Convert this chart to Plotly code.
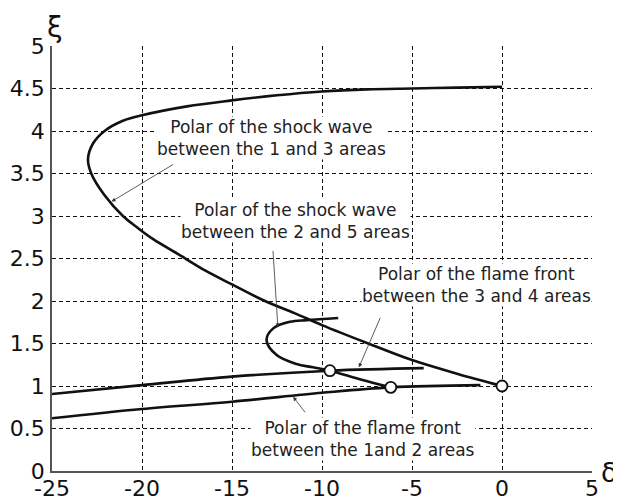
import plotly.graph_objects as go

# Shock polar between areas 1 and 3
shock13_x = [0, -2.5, -5, -7.43, -10, -11.5, -13.17, -15, -16.5, -17.9, -19.4, -20.3, -21.06, -22.1, -22.82, -23.0, -22.73, -22.08, -21.06, -20, -17.5, -15, -12.5, -10, -7.5, -5, -2.5, 0]
shock13_y = [1.0, 1.145, 1.305, 1.5, 1.716, 1.855, 2.0, 2.195, 2.36, 2.54, 2.73, 2.87, 3.0, 3.25, 3.5, 3.67, 3.85, 4.0, 4.12, 4.185, 4.29, 4.36, 4.42, 4.465, 4.49, 4.5, 4.51, 4.52]

# Shock polar between areas 2 and 5
shock25_x = [-6.18, -7.9, -9.56, -10.5, -11.41, -12.52, -13.08, -12.71, -11.78, -10.85, -9.1]
shock25_y = [0.984, 1.08, 1.18, 1.22, 1.258, 1.364, 1.54, 1.678, 1.755, 1.775, 1.80]

# Flame front polar between areas 3 and 4
flame34_x = [-25, -20, -15, -9.56, -4.35]
flame34_y = [0.905, 1.01, 1.11, 1.18, 1.21]

# Flame front polar between areas 1 and 2
flame12_x = [-25, -20, -15, -10, -6.18, -1.2]
flame12_y = [0.62, 0.73, 0.815, 0.92, 0.984, 1.01]

# Intersection points
points_x = [0, -9.56, -6.18]
points_y = [1.0, 1.18, 0.984]

x_ticks = [-25, -20, -15, -10, -5, 0, 5]
y_ticks = [0, 0.5, 1, 1.5, 2, 2.5, 3, 3.5, 4, 4.5, 5]

labels = [
    "Polar of the shock wave<br>between the 1 and 3 areas",
    "Polar of the shock wave<br>between the 2 and 5 areas",
    "Polar of the flame front<br>between the 3 and 4 areas",
    "Polar of the flame front<br>between the 1and 2 areas",
]

fig = go.Figure()
line_style = dict(color="#111111", width=2.6, shape="spline", smoothing=1.0)
for xs, ys in [(shock13_x, shock13_y), (shock25_x, shock25_y), (flame34_x, flame34_y), (flame12_x, flame12_y)]:
    fig.add_trace(go.Scatter(x=xs, y=ys, mode="lines", line=line_style, showlegend=False, hoverinfo="skip"))

fig.add_trace(go.Scatter(x=points_x, y=points_y, mode="markers",
                         marker=dict(size=11, color="white", line=dict(color="#111111", width=1.8)),
                         showlegend=False, hoverinfo="skip"))

FONT = "DejaVu Sans"
tfont = dict(family=FONT, size=17, color="#222222")

# page body offsets the figure by 8px; margins chosen so the plot area lands
# at screen x 52..592, y 46..471
OFF = 8
L, R, T, B = 44, 37, 38, 37
W, H = 621, 500
pw, ph = W - L - R, H - T - B

def px(xpix):
    return (xpix - OFF - L) / pw

def py(ypix):
    return (H - B - (ypix - OFF)) / ph

def label(text, xp, yp):
    fig.add_annotation(text=text, xref="paper", yref="paper", x=xp, y=yp,
                       xanchor="center", yanchor="middle", showarrow=False,
                       font=tfont, bgcolor="white", borderpad=0)

label(labels[0], px(271), py(138))
label(labels[1], px(295.5), py(221))
label(labels[2], px(476), py(285))
label(labels[3], px(363), py(439))

arrow = dict(showarrow=True, arrowhead=2, arrowsize=1, arrowwidth=0.8, arrowcolor="#333333",
             axref="pixel", ayref="pixel", standoff=0, text="")
fig.add_annotation(x=-21.69, y=3.17, ax=63, ay=-38, **arrow)
fig.add_annotation(x=-12.45, y=1.69, ax=-5, ay=-78, **arrow)
fig.add_annotation(x=-7.95, y=1.22, ax=22, ay=-51, **arrow)
fig.add_annotation(x=-11.6, y=0.873, ax=13, ay=17, **arrow)

# Axis titles
fig.add_annotation(text="ξ", xref="paper", yref="paper", x=px(55), y=py(27), showarrow=False,
                   xanchor="center", yanchor="middle", font=dict(family=FONT, size=28, color="#111111"))
fig.add_annotation(text="δ", xref="paper", yref="paper", x=px(609), y=py(472), showarrow=False,
                   xanchor="center", yanchor="middle", font=dict(family=FONT, size=27, color="#111111"))

axis_common = dict(showgrid=True, gridcolor="#111111", gridwidth=1, griddash="4px,3px",
                   zeroline=False, ticks="", showline=True, linecolor="#555555", linewidth=1.5,
                   automargin=False, tickfont=dict(family=FONT, size=22, color="#111111"))

fig.update_xaxes(range=[-25, 5], tickvals=x_ticks, ticktext=[str(v) for v in x_ticks],
                 ticklabelstandoff=-3, **axis_common)
fig.update_yaxes(range=[0, 5], tickvals=y_ticks, ticktext=[("%g" % v) for v in y_ticks],
                 ticklabelstandoff=1, **axis_common)

fig.update_layout(width=W, height=H, margin=dict(l=L, r=R, t=T, b=B), showlegend=False,
                  plot_bgcolor="white", paper_bgcolor="white")

fig.write_html("out.html", config={"displayModeBar": False})
